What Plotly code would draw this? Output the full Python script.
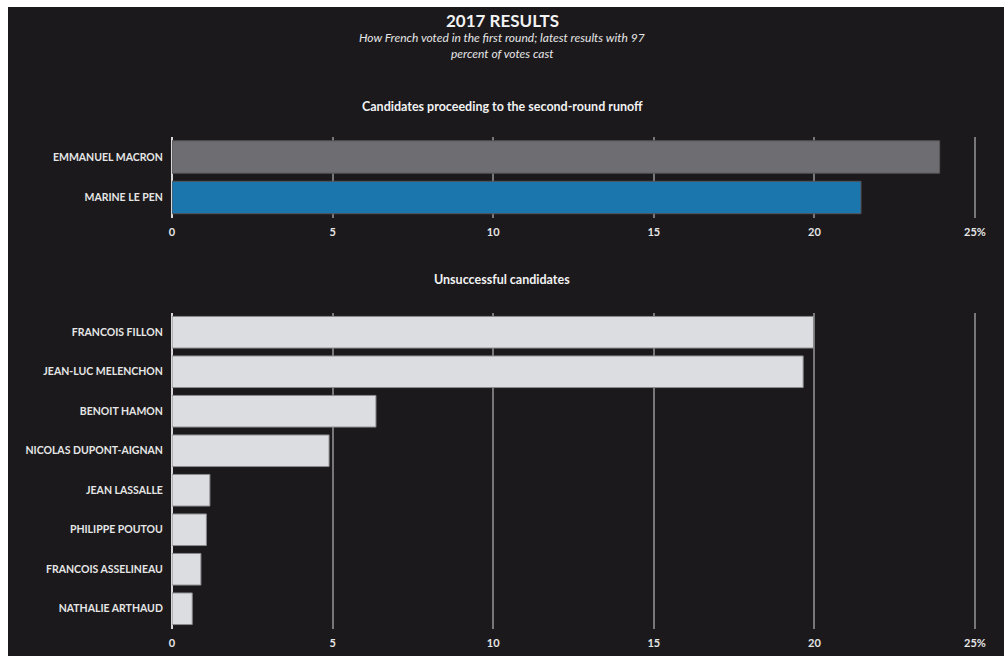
import plotly.graph_objects as go

# Data
top_names = ["EMMANUEL MACRON", "MARINE LE PEN"]
top_values = [23.9, 21.45]
top_colors = ["#6e6e72", "#1b76ae"]

bottom_names = ["FRANCOIS FILLON", "JEAN-LUC MELENCHON", "BENOIT HAMON",
                "NICOLAS DUPONT-AIGNAN", "JEAN LASSALLE", "PHILIPPE POUTOU",
                "FRANCOIS ASSELINEAU", "NATHALIE ARTHAUD"]
bottom_values = [19.97, 19.65, 6.35, 4.89, 1.18, 1.07, 0.90, 0.63]
bottom_color = "#dcdde0"

tick_vals = [0, 5, 10, 15, 20, 25]
tick_text = ["0", "5", "10", "15", "20", "25%"]

BG = "#1b191c"
TXT = "#e6e6e6"
FONT = "Lato"

W, H = 1004, 656
ML, MR = 172, 25
PW = W - ML - MR
X_MAX = 25 * PW / (975 - ML)


def px_x(px):
    return (px - ML) / PW


def px_y(py):
    return 1 - py / H


fig = go.Figure()
fig.add_trace(go.Bar(
    x=top_values, y=top_names, orientation="h",
    marker=dict(color=top_colors, line=dict(color="#555559", width=1)),
    xaxis="x", yaxis="y", showlegend=False, hoverinfo="x+y",
))
fig.add_trace(go.Bar(
    x=bottom_values, y=bottom_names, orientation="h",
    marker=dict(color=bottom_color, line=dict(color="#8a8a8e", width=1)),
    xaxis="x2", yaxis="y2", showlegend=False, hoverinfo="x+y",
))

xcommon = dict(
    range=[0, X_MAX], tickvals=tick_vals, ticktext=tick_text,
    showgrid=True, gridcolor="#77777a", gridwidth=1.5,
    zeroline=True, zerolinecolor="#d8d8d8", zerolinewidth=2,
    showline=False, ticks="outside", ticklen=4, tickcolor="rgba(0,0,0,0)",
    tickfont=dict(family=FONT, size=11, color=TXT, weight="bold"),
    automargin=False, fixedrange=True,
)
ycommon = dict(
    autorange="reversed", showgrid=False, zeroline=False, showline=False,
    ticks="outside", ticklen=6, tickcolor="rgba(0,0,0,0)",
    tickfont=dict(family=FONT, size=10.5, color=TXT, weight="bold"),
    automargin=False, fixedrange=True,
)

fig.update_layout(
    width=W, height=H,
    margin=dict(l=ML, r=MR, t=0, b=0),
    paper_bgcolor="white", plot_bgcolor="rgba(0,0,0,0)",
    bargap=0.2,
    xaxis=dict(domain=[0, 1], anchor="y", **xcommon),
    yaxis=dict(domain=[px_y(217.75), px_y(136.75)], anchor="x", **ycommon),
    xaxis2=dict(domain=[0, 1], anchor="y2", **xcommon),
    yaxis2=dict(domain=[px_y(628.5), px_y(312.5)], anchor="x2", **ycommon),
    shapes=[dict(
        type="rect", xref="paper", yref="paper", layer="below",
        x0=px_x(8), x1=px_x(1004), y0=px_y(656), y1=px_y(7),
        fillcolor=BG, line=dict(width=0),
    )],
    annotations=[
        dict(text="<b>2017 RESULTS</b>", xref="paper", yref="paper",
             x=px_x(502), y=px_y(21), xanchor="center", yanchor="middle",
             showarrow=False, font=dict(family=FONT, size=17, color="#f2f2f2")),
        dict(text="<i>How French voted in the first round; latest results with 97</i>",
             xref="paper", yref="paper", x=px_x(502), y=px_y(37),
             xanchor="center", yanchor="middle", showarrow=False,
             font=dict(family=FONT, size=12, color=TXT)),
        dict(text="<i>percent of votes cast</i>",
             xref="paper", yref="paper", x=px_x(502), y=px_y(53),
             xanchor="center", yanchor="middle", showarrow=False,
             font=dict(family=FONT, size=12, color=TXT)),
        dict(text="<b>Candidates proceeding to the second-round runoff</b>",
             xref="paper", yref="paper", x=px_x(502), y=px_y(107),
             xanchor="center", yanchor="middle", showarrow=False,
             font=dict(family=FONT, size=12.5, color="#f2f2f2")),
        dict(text="<b>Unsuccessful candidates</b>",
             xref="paper", yref="paper", x=px_x(502), y=px_y(280),
             xanchor="center", yanchor="middle", showarrow=False,
             font=dict(family=FONT, size=12.5, color="#f2f2f2")),
    ],
)

fig.write_html("out.html", config=dict(displayModeBar=False))
